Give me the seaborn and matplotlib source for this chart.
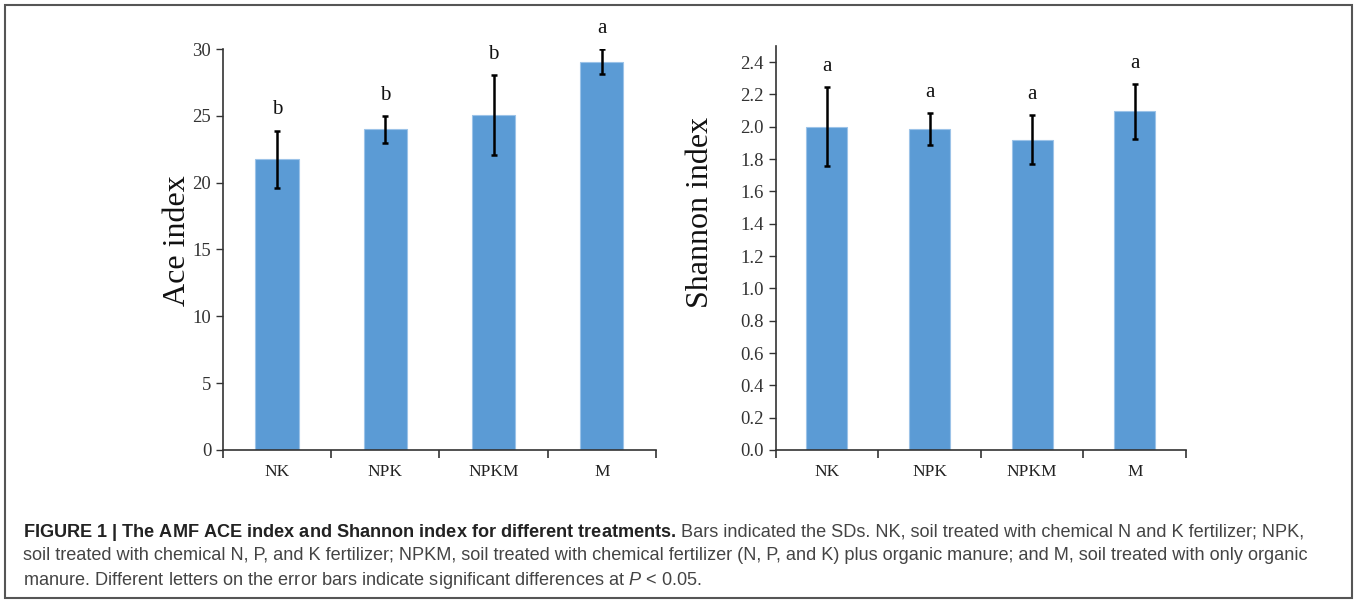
import matplotlib

matplotlib.use("Agg")
import matplotlib.pyplot as plt
import pandas as pd
import seaborn as sns
from matplotlib.patches import Rectangle

# data
treatments = ["NK", "NPK", "NPKM", "M"]
ace_mean = [21.75, 24.0, 25.05, 29.05]
ace_sd = [2.15, 1.0, 3.0, 0.95]
ace_letters = ["b", "b", "b", "a"]
shannon_mean = [2.0, 1.986, 1.92, 2.095]
shannon_sd = [0.245, 0.10, 0.15, 0.17]
shannon_letters = ["a", "a", "a", "a"]

ace_ticks = [0, 5, 10, 15, 20, 25, 30]
shannon_ticks = [0.0, 0.2, 0.4, 0.6, 0.8, 1.0, 1.2, 1.4, 1.6, 1.8, 2.0, 2.2, 2.4]

caption_lines = [
    (r"$\bf{FIGURE\ 1\ |\ The\ AMF\ ACE\ index\ and\ Shannon\ index\ for\ different\ treatments.}$",
     " Bars indicated the SDs. NK, soil treated with chemical N and K fertilizer; NPK,"),
    ("", "soil treated with chemical N, P, and K fertilizer; NPKM, soil treated with chemical fertilizer (N, P, and K) plus organic manure; and M, soil treated with only organic"),
    ("", "manure. Different letters on the error bars indicate significant differences at $\\it{P}$ < 0.05."),
]

BAR = "#5b9bd5"
sns.set_theme(style="ticks")
plt.rcParams["font.family"] = ["Liberation Serif", "DejaVu Serif"]
plt.rcParams["mathtext.fontset"] = "custom"
plt.rcParams["mathtext.rm"] = "Liberation Sans"
plt.rcParams["mathtext.bf"] = "Liberation Sans:bold"
plt.rcParams["mathtext.it"] = "Liberation Sans:italic"


def draw_panel(ax, means, sds, letters, ticks, ylim, ylabel, ticklabels):
    df = pd.DataFrame({"treatment": treatments, "value": means})
    sns.barplot(data=df, x="treatment", y="value", color=BAR, width=0.4,
                edgecolor="#9cc3e8", linewidth=0.8, saturation=1, ax=ax)
    xs = range(len(treatments))
    ax.errorbar(xs, means, yerr=sds, fmt="none", ecolor="black",
                elinewidth=1.8, capsize=2.2, capthick=1.8, zorder=5)
    for x, m, s, lab in zip(xs, means, sds, letters):
        ax.annotate(lab, (x, m + s), xytext=(0, 8), textcoords="offset points",
                    ha="center", va="bottom", fontsize=15, color="#111111")
    ax.set_xlim(-0.5, len(treatments) - 0.5)
    ax.set_ylim(*ylim)
    ax.set_yticks(ticks)
    ax.set_yticklabels(ticklabels)
    ax.set_xticks([i - 0.5 for i in range(len(treatments) + 1)])
    ax.set_xticklabels([])
    ax.set_xticks(list(xs), minor=True)
    ax.set_xticklabels(treatments, minor=True)
    ax.tick_params(axis="x", which="minor", length=0, pad=10, labelsize=12.5,
                   labelcolor="#222222")
    ax.tick_params(axis="x", which="major", length=6, width=1.2, color="#333333")
    ax.tick_params(axis="y", length=5, width=1.0, color="#333333", labelsize=13.5,
                   labelcolor="#333333", pad=3.5)
    ax.set_xlabel("")
    ax.set_ylabel(ylabel, fontsize=23, color="#111111")
    sns.despine(ax=ax)
    for sp in ("left", "bottom"):
        ax.spines[sp].set_color("#333333")
        ax.spines[sp].set_linewidth(1.2)


fig = plt.figure(figsize=(13.57, 6.02), dpi=100)
ax1 = fig.add_axes([0.1643, 0.2525, 0.3191, 0.6661])
ax2 = fig.add_axes([0.5716, 0.2525, 0.3024, 0.6711])

draw_panel(ax1, ace_mean, ace_sd, ace_letters, ace_ticks, (0, 30), "Ace index",
           [str(t) for t in ace_ticks])
draw_panel(ax2, shannon_mean, shannon_sd, shannon_letters, shannon_ticks, (0, 2.5),
           "Shannon index", [f"{t:.1f}" for t in shannon_ticks])
ax1.yaxis.set_label_coords(-0.072, 0.521)
ax2.yaxis.set_label_coords(-0.148, 0.587)

# caption
baselines = [536.7, 560.5, 585.0]
for (bold, rest), yb in zip(caption_lines, baselines):
    y = 1 - yb / 602
    if bold:
        t = fig.text(22.7 / 1357, y, bold, fontsize=13.1, color="#222222",
                     family="Liberation Sans", va="baseline")
        fig.canvas.draw()
        bb = t.get_window_extent()
        x2 = bb.x1 / fig.bbox.width
        fig.text(x2, y, rest, fontsize=13.1, color="#444444",
                 family="Liberation Sans", va="baseline")
    else:
        fig.text(22.7 / 1357, y, rest, fontsize=13.1, color="#444444",
                 family="Liberation Sans", va="baseline")

fig.patches.append(Rectangle((5 / 1357, 1 - 598 / 602), 1347 / 1357, 593 / 602,
                             transform=fig.transFigure, fill=False,
                             edgecolor="#555555", linewidth=1.5))

fig.savefig("out.png", dpi=100)
